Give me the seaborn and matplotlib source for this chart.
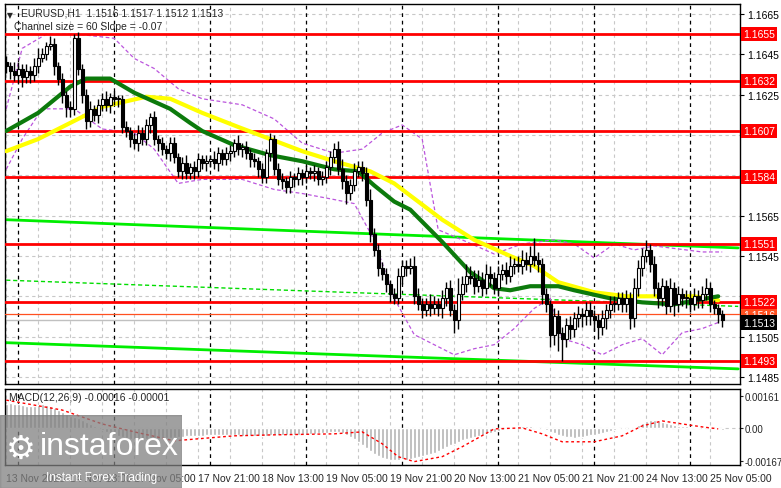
import numpy as np
import pandas as pd
import matplotlib
matplotlib.use("Agg")
import matplotlib.pyplot as plt
import matplotlib.transforms as mtransforms
import seaborn as sns

# --- data --------------------------------------------------------------------
closes = [
    1.1639, 1.1637, 1.1635, 1.1638, 1.1634, 1.1637, 1.1635, 1.1639, 1.1643, 1.1645,
    1.1649, 1.1650, 1.1639, 1.1633, 1.1625, 1.1619, 1.1618, 1.1653, 1.1638, 1.1625,
    1.1612, 1.1618, 1.1615, 1.1620, 1.1623, 1.1620, 1.1624, 1.1623, 1.1623, 1.1609,
    1.1607, 1.1603, 1.1601, 1.1606, 1.1603, 1.1610, 1.1614, 1.1603, 1.1601, 1.1598,
    1.1596, 1.1601, 1.1594, 1.1587, 1.1591, 1.1586, 1.1589, 1.1587, 1.1593, 1.1591,
    1.1592, 1.1593, 1.1591, 1.1596, 1.1593, 1.1596, 1.1597, 1.1601, 1.1598, 1.1599,
    1.1596, 1.1593, 1.1592, 1.1588, 1.1584, 1.1596, 1.1603, 1.1588, 1.1583, 1.1582,
    1.1579, 1.1584, 1.1583, 1.1586, 1.1584, 1.1587, 1.1586, 1.1587, 1.1583, 1.1584,
    1.1589, 1.1594, 1.1598, 1.1588, 1.1582, 1.1576, 1.1580, 1.1587, 1.1589, 1.1586,
    1.1573, 1.1556, 1.1548, 1.1539, 1.1536, 1.1531, 1.1526, 1.1524, 1.1535, 1.1540,
    1.1539, 1.1540, 1.1525, 1.1521, 1.1518, 1.1521, 1.1519, 1.1521, 1.1519, 1.1524,
    1.1529, 1.1518, 1.1513, 1.1526, 1.1531, 1.1535, 1.1534, 1.1530, 1.1533, 1.1529,
    1.1536, 1.1534, 1.1529, 1.1536, 1.1538, 1.1535, 1.1540, 1.1541, 1.1540, 1.1543,
    1.1541, 1.1545, 1.1543, 1.1541, 1.1526, 1.1521, 1.1506, 1.1515, 1.1507, 1.1504,
    1.1511, 1.1509, 1.1514, 1.1516, 1.1515, 1.1518, 1.1515, 1.1513, 1.1510, 1.1514,
    1.1518, 1.1521, 1.1521, 1.1524, 1.1521, 1.1524, 1.1514, 1.1529, 1.1539, 1.1545,
    1.1548, 1.1541, 1.1529, 1.1524, 1.1530, 1.1520, 1.1529, 1.1521, 1.1526, 1.1524,
    1.1524, 1.1521, 1.1525, 1.1523, 1.1526, 1.1529, 1.1521, 1.1519, 1.1516, 1.1513,
]
first_open = 1.1641

wick_up = [
    3, 2, 4, 3, 2, 3, 2, 4, 5, 3, 2, 4, 3, 2, 3, 2, 3, 2, 3, 2,
    3, 4, 2, 3, 3, 4, 2, 3, 2, 2, 3, 2, 3, 4, 3, 3, 2, 3, 2, 3,
    2, 3, 3, 2, 3, 4, 2, 3, 3, 2, 3, 2, 4, 3, 2, 3, 3, 2, 4, 2,
    3, 2, 3, 2, 3, 2, 3, 2, 3, 3, 2, 3, 2, 3, 2, 3, 2, 3, 2, 3,
    3, 3, 3, 4, 5, 3, 3, 4, 3, 3, 3, 5, 3, 3, 3, 3, 2, 3, 4, 3,
    3, 4, 5, 4, 3, 3, 5, 4, 3, 4, 3, 4, 3, 8, 4, 6, 5, 4, 5, 4,
    5, 4, 3, 4, 3, 4, 5, 3, 4, 5, 4, 5, 9, 4, 3, 3, 2, 4, 3, 3,
    3, 4, 3, 4, 3, 4, 4, 3, 3, 4, 3, 4, 4, 3, 3, 4, 3, 5, 4, 4,
    5, 3, 4, 3, 4, 3, 5, 3, 4, 3, 4, 3, 4, 3, 4, 5, 3, 2, 2, 2,
]
wick_dn = [
    3, 4, 3, 4, 5, 3, 4, 3, 3, 2, 3, 2, 4, 3, 4, 5, 4, 3, 3, 4,
    4, 3, 3, 4, 3, 3, 4, 3, 4, 3, 3, 4, 3, 4, 3, 3, 4, 3, 4, 3,
    3, 4, 3, 3, 4, 3, 3, 4, 3, 3, 4, 3, 3, 4, 3, 3, 4, 3, 3, 4,
    3, 4, 3, 4, 3, 3, 4, 3, 3, 4, 3, 3, 4, 3, 4, 3, 3, 4, 3, 3,
    3, 4, 3, 3, 4, 5, 3, 3, 3, 4, 3, 4, 3, 4, 3, 4, 4, 3, 3, 4,
    4, 3, 4, 3, 4, 3, 4, 3, 4, 5, 4, 3, 6, 4, 3, 4, 3, 4, 3, 4,
    3, 4, 3, 4, 3, 4, 3, 4, 3, 4, 3, 4, 3, 4, 5, 4, 6, 5, 9, 11,
    4, 5, 4, 4, 5, 4, 4, 5, 6, 4, 5, 4, 4, 3, 4, 4, 5, 4, 4, 4,
    3, 4, 4, 5, 4, 4, 3, 6, 4, 4, 5, 4, 3, 4, 4, 3, 4, 3, 4, 3,
]

# moving averages (bar index, price)
ma_slow_bar = [0, 8, 16, 24, 35, 41, 49, 58, 66, 74, 82, 91, 97, 101, 109, 117, 126, 132, 138, 147, 155, 163, 172, 178]
ma_slow = [1.1597, 1.1603, 1.1611, 1.1619, 1.1624, 1.1623, 1.1616, 1.1609, 1.1603, 1.1597, 1.1592, 1.1587,
           1.1581, 1.1575, 1.1563, 1.1553, 1.1545, 1.1540, 1.1532, 1.1527, 1.1525, 1.1525, 1.1525, 1.1523]
ma_fast_bar = [0, 8, 16, 20, 26, 32, 41, 46, 49, 57, 66, 74, 82, 88, 92, 97, 101, 109, 116, 122, 126, 131,
               138, 142, 151, 159, 167, 178]
ma_fast = [1.1607, 1.1616, 1.1629, 1.1633, 1.1633, 1.1626, 1.1618, 1.1611, 1.1607, 1.1600, 1.1595, 1.1592,
           1.1588, 1.1587, 1.1580, 1.1572, 1.1568, 1.1552, 1.1537, 1.1529, 1.1528, 1.1530, 1.1530, 1.1528,
           1.1524, 1.1522, 1.1521, 1.1525]

band_up_bar = [0, 4, 10, 18, 27, 32, 37, 43, 49, 59, 67, 74, 82, 89, 94, 99, 104, 108, 114, 122, 129, 137,
               142, 147, 152, 157, 162, 174, 179]
band_up = [1.1618, 1.1648, 1.1655, 1.1655, 1.1653, 1.1643, 1.1638, 1.1628, 1.1623, 1.1620, 1.1613, 1.1601,
           1.1596, 1.1598, 1.1606, 1.1610, 1.1603, 1.1558, 1.1553, 1.1546, 1.1551, 1.1553, 1.1551, 1.1544,
           1.1551, 1.1548, 1.1550, 1.1547, 1.1547]
band_dn_bar = [0, 4, 9, 17, 24, 32, 37, 43, 49, 59, 67, 74, 82, 87, 92, 97, 102, 107, 112, 117, 122, 127,
               132, 136, 139, 144, 149, 154, 159, 164, 169, 174, 178]
band_dn = [1.1588, 1.1603, 1.1618, 1.1618, 1.1608, 1.1606, 1.1598, 1.1581, 1.1583, 1.1583, 1.1578, 1.1576,
           1.1573, 1.1571, 1.1553, 1.1524, 1.1506, 1.1501, 1.1496, 1.1499, 1.1501, 1.1509, 1.1519, 1.1524,
           1.1504, 1.1501, 1.1496, 1.1501, 1.1504, 1.1496, 1.1507, 1.1509, 1.1512]

channel_bar = [0, 183]
channel_up = [1.1563, 1.1549]
channel_mid = [1.1533, 1.1520]
channel_dn = [1.1502, 1.1489]

levels = [1.1655, 1.1632, 1.1607, 1.1584, 1.1551, 1.1522, 1.1493]
price_ticks = [1.1665, 1.1645, 1.1625, 1.1605, 1.1585, 1.1565, 1.1545, 1.1525, 1.1505, 1.1485]
shown_ticks = ["1.1665", "1.1645", "1.1625", "", "", "1.1565", "1.1545", "", "1.1505", "1.1485"]

macd_hist = [  # in 1e-5
    120, 125, 120, 118, 115, 112, 110, 112, 115, 118, 115, 110, 100,
    90, 80, 70, 60, 55, 50, 40, 30, 20, 10,
    0, -10, -20, -30, -35, -40, -45, -50, -55, -55, -55, -55, -55, -50, -50, -55, -50, -50,
    -50, -48, -45, -45, -42, -40, -40, -40, -40, -38, -35, -35, -35, -35, -35, -35, -35, -38, -40, -40,
    -40, -42, -42, -40, -40, -38, -35, -35, -35, -35, -35, -35, -35, -35, -35, -30, -30, -28, -25, -25,
    -22, -20, -20, -25, -35, -45, -55, -70, -85,
    -100, -115, -130, -140, -150, -155, -160, -160, -160, -158, -160, -158, -150, -145, -140, -135,
    -130, -125, -115, -105, -95, -85, -80, -70, -62, -55, -50, -45, -40, -35, -30,
    -25, -20, -15, -10, -5, 0, 5, 8, 10, 10, 8, 5, 0, -5,
    -12, -20, -28, -35, -40, -45, -48, -50, -48, -45, -40, -38, -35, -30, -25, -20,
    -15, -10, -5, 0, -2, -5, 5, 15, 25, 35, 40, 40, 35, 30, 25,
    20, 15, 12, 10, 8, 5, 5, 3, 0, -2, -3, -5, -8, -10,
]
signal_bar = [0, 14, 24, 32, 42, 57, 67, 82, 89, 94, 98, 102, 109, 114, 122, 129, 134, 139, 147, 154, 159,
              164, 169, 174, 178]
signal = [140, 90, 20, -20, -65, -40, -35, -30, -20, -80, -145, -170, -145, -95, -5, 0, -30, -70, -70, -40,
          10, 35, 20, 5, -5]

time_labels = ["13 Nov 2025", "14 Nov 13:00", "17 Nov 05:00", "17 Nov 21:00", "18 Nov 13:00", "19 Nov 05:00",
               "19 Nov 21:00", "20 Nov 13:00", "21 Nov 05:00", "21 Nov 21:00", "24 Nov 13:00", "25 Nov 05:00"]
day_sep_bars = [3, 27, 51, 75, 99, 123, 147, 171]

# --- build candles -------------------------------------------------------------
df = pd.DataFrame({"close": closes})
df["open"] = [first_open] + closes[:-1]
df["high"] = df[["open", "close"]].max(axis=1) + np.array(wick_up) / 10000
df["low"] = df[["open", "close"]].min(axis=1) - np.array(wick_dn) / 10000
df["bar"] = np.arange(len(df))

sns.set_style("white")
plt.rcParams["font.family"] = ["Liberation Sans", "DejaVu Sans"]
FS = 7.5

fig = plt.figure(figsize=(7.81, 4.89), dpi=100)
W, H = 781, 489
ax = fig.add_axes([5 / W, (H - 385) / H, 735 / W, 380 / H])
mx = fig.add_axes([5 / W, (H - 466) / H, 735 / W, 76 / H])

xmin, xmax = -0.3, 183.45
for a in (ax, mx):
    a.set_xlim(xmin, xmax)
    for s in a.spines.values():
        s.set_color("black")
        s.set_linewidth(1)
    for i in range(0, 184, 8):
        a.axvline(i, color="#c8c8c8", lw=0.8, ls=(0, (3, 3)), zorder=0)
    for b in day_sep_bars:
        a.axvline(b, color="black", lw=0.9, ls=(0, (3, 3)), zorder=0.5)

ax.set_ylim(1.14815, 1.1670)
for p in price_ticks:
    ax.axhline(p, color="#c8c8c8", lw=0.8, ls=(0, (3, 3)), zorder=0)

# channel and bands
sns.lineplot(x=channel_bar, y=channel_up, ax=ax, color="#00ee00", lw=2, zorder=2)
sns.lineplot(x=channel_bar, y=channel_dn, ax=ax, color="#00ee00", lw=2, zorder=2)
ax.plot(channel_bar, channel_mid, color="#00dd00", lw=1, ls=(0, (3, 2)), zorder=2)
ax.plot(band_up_bar, band_up, color="#bb55dd", lw=0.9, ls=(0, (3, 2)), zorder=2)
ax.plot(band_dn_bar, band_dn, color="#bb55dd", lw=0.9, ls=(0, (3, 2)), zorder=2)

# levels
for lv in levels:
    ax.axhline(lv, color="#ff0000", lw=2, zorder=3)
ax.axhline(1.1516, color="#ff5020", lw=0.9, zorder=3)
ax.axhline(1.1513, color="#c0c0c0", lw=1, zorder=1)

# moving averages
sns.lineplot(x=ma_slow_bar, y=ma_slow, ax=ax, color="#ffff00", lw=3, zorder=4)
sns.lineplot(x=ma_fast_bar, y=ma_fast, ax=ax, color="#0c7a0c", lw=3, zorder=4)

# candles
ax.vlines(df["bar"], df["low"], df["high"], color="black", lw=1, zorder=5)
up = df["close"] >= df["open"]
body = (df["close"] - df["open"]).abs().clip(lower=0.00006)
ax.bar(df["bar"][up], body[up], bottom=df["open"][up], width=0.7, color="white",
       edgecolor="black", lw=0.8, zorder=6)
ax.bar(df["bar"][~up], body[~up], bottom=df["close"][~up], width=0.7, color="black",
       edgecolor="black", lw=0.8, zorder=6)

# right price axis
ax.yaxis.tick_right()
ax.set_yticks(price_ticks)
ax.set_yticklabels(shown_ticks, fontsize=FS)
ax.tick_params(axis="y", length=3, pad=2, colors="black")
ax.set_xticks([])
trans = mtransforms.blended_transform_factory(ax.transAxes, ax.transData)
box = dict(boxstyle="square,pad=0.2", ec="none")
for lv in levels:
    ax.text(1.004, lv, f"{lv:.4f}", transform=trans, fontsize=FS, color="white", va="center", ha="left",
            bbox={**box, "fc": "#ff0000"}, zorder=10, clip_on=False)
ax.text(1.004, 1.15155, "1.1516", transform=trans, fontsize=FS, color="white", va="center", ha="left",
        bbox={**box, "fc": "#ff5020"}, zorder=9, clip_on=False)
ax.text(1.004, 1.1512, "1.1513", transform=trans, fontsize=FS, color="white", va="center", ha="left",
        bbox={**box, "fc": "black"}, zorder=11, clip_on=False)

ax.text(0.003, 0.985, "\u25BC", transform=ax.transAxes, fontsize=5.5, va="top", family="DejaVu Sans")
ax.text(0.022, 0.99, "EURUSD,H1  1.1516 1.1517 1.1512 1.1513", transform=ax.transAxes, fontsize=FS, va="top")
ax.text(0.012, 0.955, "Channel size = 60 Slope = -0.07", transform=ax.transAxes, fontsize=FS, va="top")

# MACD panel
mx.set_ylim(-0.00187, 0.00196)
mx.axhline(0, color="#c8c8c8", lw=0.8, ls=(0, (3, 3)), zorder=0)
mx.bar(df["bar"], np.array(macd_hist) / 100000, width=0.75, color="#b4b4b4", zorder=2)
mx.plot(signal_bar, np.array(signal) / 100000, color="#ff0000", lw=1, ls=(0, (2, 2)), zorder=3)
mx.yaxis.tick_right()
mx.set_yticks([0.00161, 0.0, -0.00167])
mx.set_yticklabels(["0.00161", "0.00", "-0.00167"], fontsize=7)
mx.tick_params(axis="y", length=2, pad=1.5)
mx.set_xticks([16 * k for k in range(len(time_labels))])
mx.set_xticklabels(time_labels, fontsize=FS, ha="left")
mx.tick_params(axis="x", length=3, pad=3)
mx.text(0.005, 0.96, "MACD(12,26,9) -0.00016 -0.00001", transform=mx.transAxes, fontsize=FS, va="top")

# watermark
wm = fig.add_axes([0, 0, 182 / W, 73 / H])
wm.set_axis_off()
wm.add_patch(plt.Rectangle((0, 0), 1, 1, transform=wm.transAxes, color="#808080", alpha=0.75))
wm.text(0.03, 0.55, "\u2699", fontsize=24, color="white", va="center", transform=wm.transAxes,
        family="DejaVu Sans")
wm.text(0.22, 0.58, "instaforex", fontsize=23, color="white", va="center", transform=wm.transAxes)
wm.text(0.25, 0.15, "Instant Forex Trading", fontsize=8.5, color="white", va="center", transform=wm.transAxes)

fig.savefig("out.png", dpi=100)
